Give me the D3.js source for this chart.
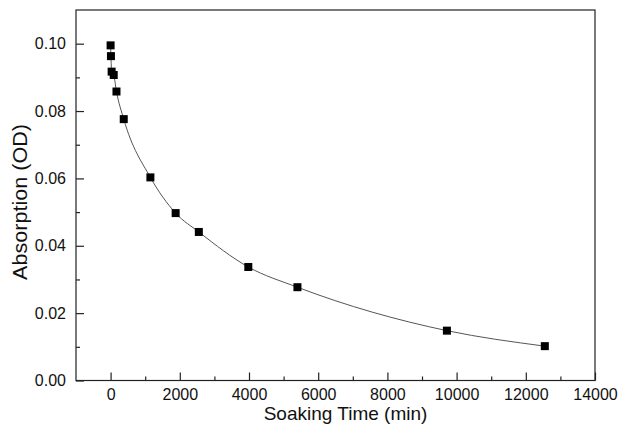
<!DOCTYPE html>
<html>
<head>
<meta charset="utf-8">
<script src="https://cdn.jsdelivr.net/npm/d3@7"></script>
<style>
  html, body { margin: 0; padding: 0; background: #fff; }
  svg { display: block; }
  text { font-family: "Liberation Sans", Arial, sans-serif; fill: #111; }
</style>
</head>
<body>
<svg id="chart" width="618" height="435"></svg>
<script>
// Data
const soakTime = [0, 10, 30, 90, 170, 380, 1150, 1880, 2550, 3980, 5400, 9720, 12550];
const absorption = [0.0995, 0.0963, 0.0917, 0.0907, 0.0858, 0.0776, 0.0603, 0.0497, 0.0441, 0.0337, 0.0277, 0.0148, 0.0102];
const xTicks = [0, 2000, 4000, 6000, 8000, 10000, 12000, 14000];
const xMinorTicks = [1000, 3000, 5000, 7000, 9000, 11000, 13000];
const yTicks = [0.00, 0.02, 0.04, 0.06, 0.08, 0.10];
const yMinorTicks = [0.01, 0.03, 0.05, 0.07, 0.09];
const xLabel = "Soaking Time (min)";
const yLabel = "Absorption (OD)";

const svg = d3.select("#chart");
const L = 76, R = 595, T = 10, B = 380.5;

const x = d3.scaleLinear().domain([-1000, 14000]).range([L, R]);
const y = d3.scaleLinear().domain([0, 0.11]).range([B, T]);

const data = soakTime.map((t, i) => ({ t, a: absorption[i] }));
const font = '"Liberation Sans", Arial, sans-serif';

// Frame
svg.append("rect").attr("x", L).attr("y", T).attr("width", R - L).attr("height", B - T)
  .attr("fill", "none").attr("stroke", "#222").attr("stroke-width", 1.2);

// X axis (inward ticks)
const xAxis = d3.axisBottom(x).tickValues(xTicks).tickSize(-8).tickPadding(8)
  .tickFormat(d3.format("d"));
const gx = svg.append("g").attr("transform", `translate(0,${B})`).call(xAxis);
gx.select(".domain").remove();
gx.selectAll("line").attr("stroke", "#222").attr("stroke-width", 1.2);
gx.selectAll("text").attr("font-size", 16).attr("fill", "#111").style("font-family", font);
const gxm = svg.append("g").attr("transform", `translate(0,${B})`)
  .call(d3.axisBottom(x).tickValues(xMinorTicks).tickSize(-4).tickFormat(""));
gxm.select(".domain").remove();
gxm.selectAll("line").attr("stroke", "#222").attr("stroke-width", 1.2);

// Y axis (inward ticks)
const yAxis = d3.axisLeft(y).tickValues(yTicks).tickSize(-8).tickPadding(10)
  .tickFormat(d3.format(".2f"));
const gy = svg.append("g").attr("transform", `translate(${L},0)`).call(yAxis);
gy.select(".domain").remove();
gy.selectAll("line").attr("stroke", "#222").attr("stroke-width", 1.2);
gy.selectAll("text").attr("font-size", 16).attr("fill", "#111").style("font-family", font);
const gym = svg.append("g").attr("transform", `translate(${L},0)`)
  .call(d3.axisLeft(y).tickValues(yMinorTicks).tickSize(-4).tickFormat(""));
gym.select(".domain").remove();
gym.selectAll("line").attr("stroke", "#222").attr("stroke-width", 1.2);

// Fit curve
const line = d3.line().x(d => x(d.t)).y(d => y(d.a)).curve(d3.curveMonotoneX);
svg.append("path").datum(data).attr("d", line)
  .attr("fill", "none").attr("stroke", "#555").attr("stroke-width", 1);

// Markers
const s = 8;
svg.append("g").selectAll("rect").data(data).join("rect")
  .attr("x", d => x(d.t) - s / 2).attr("y", d => y(d.a) - s / 2)
  .attr("width", s).attr("height", s).attr("fill", "#000");

// Axis labels
svg.append("text").attr("x", (L + R) / 2 + 10).attr("y", 420)
  .attr("text-anchor", "middle").attr("font-size", 19).text(xLabel);
svg.append("text").attr("transform", `translate(27,${202}) rotate(-90)`)
  .attr("text-anchor", "middle").attr("font-size", 20)
  .attr("textLength", 156).attr("lengthAdjust", "spacingAndGlyphs").text(yLabel);
</script>
</body>
</html>
